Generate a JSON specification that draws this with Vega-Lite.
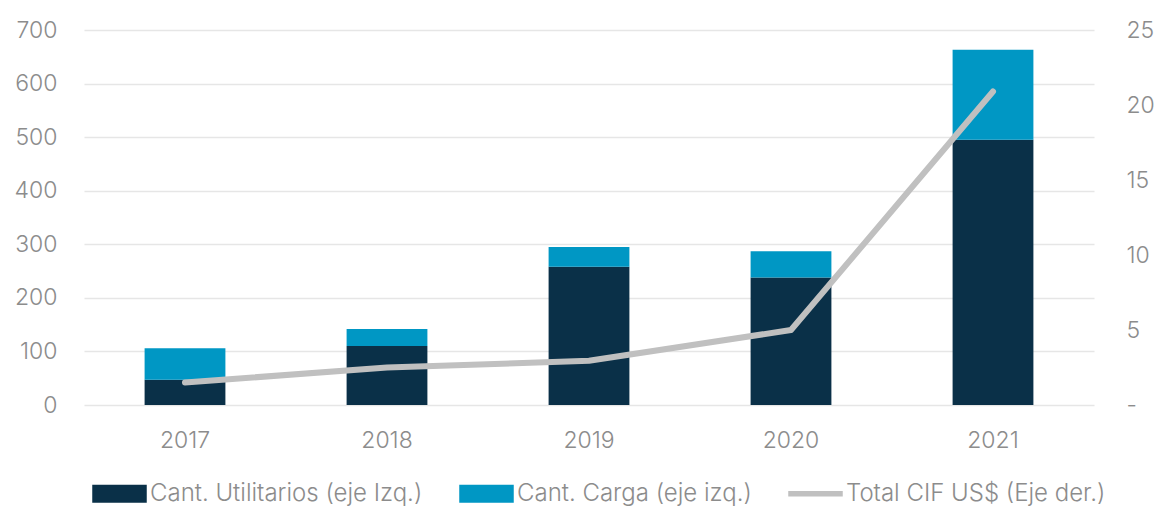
{
  "$schema": "https://vega.github.io/schema/vega-lite/v6.json",
  "width": 1010,
  "height": 375,
  "autosize": {"type": "none"},
  "padding": {"left": 84, "top": 30, "right": 65, "bottom": 104},
  "background": "white",
  "config": {
    "view": {"stroke": null},
    "font": "Inter",
    "axis": {
      "labelFont": "Inter",
      "labelFontWeight": 300,
      "labelFontSize": 23,
      "labelColor": "#8c8c8c",
      "domain": false,
      "ticks": false,
      "title": null
    },
    "legend": {
      "labelFont": "Inter",
      "labelFontWeight": 300
    }
  },
  "data": {
    "values": [
      {"year": "2017", "serie": "Cant. Utilitarios (eje Izq.)", "value": 47},
      {"year": "2018", "serie": "Cant. Utilitarios (eje Izq.)", "value": 110},
      {"year": "2019", "serie": "Cant. Utilitarios (eje Izq.)", "value": 258},
      {"year": "2020", "serie": "Cant. Utilitarios (eje Izq.)", "value": 238},
      {"year": "2021", "serie": "Cant. Utilitarios (eje Izq.)", "value": 495},
      {"year": "2017", "serie": "Cant. Carga (eje izq.)", "value": 59},
      {"year": "2018", "serie": "Cant. Carga (eje izq.)", "value": 32},
      {"year": "2019", "serie": "Cant. Carga (eje izq.)", "value": 37},
      {"year": "2020", "serie": "Cant. Carga (eje izq.)", "value": 49},
      {"year": "2021", "serie": "Cant. Carga (eje izq.)", "value": 168},
      {"year": "2017", "serie": "Total CIF US$ (Eje der.)", "value": 1.5},
      {"year": "2018", "serie": "Total CIF US$ (Eje der.)", "value": 2.5},
      {"year": "2019", "serie": "Total CIF US$ (Eje der.)", "value": 2.95},
      {"year": "2020", "serie": "Total CIF US$ (Eje der.)", "value": 5.0},
      {"year": "2021", "serie": "Total CIF US$ (Eje der.)", "value": 20.9}
    ]
  },
  "encoding": {
    "x": {
      "field": "year",
      "type": "ordinal",
      "scale": {"paddingInner": 0.6, "paddingOuter": 0.3},
      "axis": {"labelAngle": 0, "labelPadding": 24, "grid": false}
    }
  },
  "layer": [
    {
      "transform": [{"filter": "datum.serie != 'Total CIF US$ (Eje der.)'"}],
      "mark": {"type": "bar"},
      "encoding": {
        "y": {
          "field": "value",
          "type": "quantitative",
          "stack": "zero",
          "scale": {"domain": [0, 700]},
          "axis": {
            "orient": "left",
            "values": [0, 100, 200, 300, 400, 500, 600, 700],
            "grid": true,
            "gridColor": "#e6e6e6",
            "gridWidth": 1.5,
            "labelPadding": 27
          }
        },
        "color": {
          "field": "serie",
          "type": "nominal",
          "scale": {
            "domain": ["Cant. Utilitarios (eje Izq.)", "Cant. Carga (eje izq.)", "Total CIF US$ (Eje der.)"],
            "range": ["#0a3048", "#0097c4", "#c0c0c0"]
          },
          "legend": {
            "title": null,
            "orient": "none",
            "legendX": 8,
            "legendY": 436,
            "direction": "horizontal",
            "symbolSize": 2809,
            "symbolType": "M-1,-0.3H1V0.3H-1Z",
            "labelFontSize": 24,
            "labelLimit": 500,
            "labelColor": "#8c8c8c",
            "labelOffset": 3,
            "columnPadding": 34,
            "encode": {
              "symbols": {
                "update": {
                  "shape": {"signal": "datum.value === 'Total CIF US$ (Eje der.)' ? 'M-1,-0.08H1V0.08H-1Z' : 'M-1,-0.31H1V0.31H-1Z'"},
                  "fill": {"signal": "scale('color', datum.value)"},
                  "stroke": {"value": null},
                  "opacity": {"value": 1},
                  "fillOpacity": {"value": 1}
                }
              }
            }
          }
        },
        "order": {"field": "serie", "sort": "descending"}
      }
    },
    {
      "transform": [{"filter": "datum.serie == 'Total CIF US$ (Eje der.)'"}],
      "mark": {"type": "line", "strokeWidth": 6, "strokeCap": "round", "strokeJoin": "round"},
      "encoding": {
        "y": {
          "field": "value",
          "type": "quantitative",
          "scale": {"domain": [0, 25]},
          "axis": {
            "orient": "right",
            "values": [0, 5, 10, 15, 20, 25],
            "grid": false,
            "labelPadding": 32,
            "labelExpr": "datum.value == 0 ? '-' : datum.label"
          }
        },
        "color": {"field": "serie", "type": "nominal"}
      }
    }
  ],
  "resolve": {"scale": {"y": "independent"}}
}
